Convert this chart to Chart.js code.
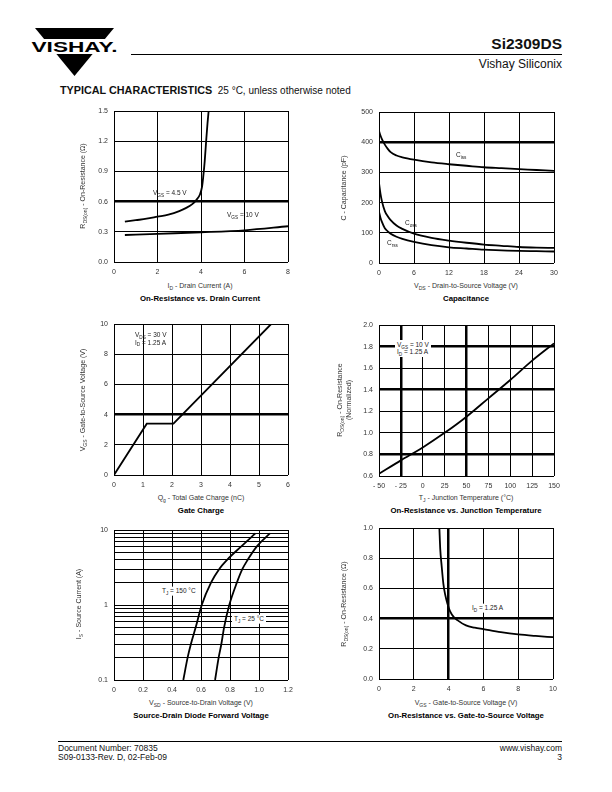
<!DOCTYPE html>
<html>
<head>
<meta charset="utf-8">
<script src="https://cdn.jsdelivr.net/npm/chart.js@4.4.1/dist/chart.umd.min.js"></script>
<style>
  body { margin: 0; width: 612px; height: 792px; position: relative; background: #fff; overflow: hidden;
         font-family: "Liberation Sans", Arial, sans-serif; color: #111; }
  canvas { position: absolute; }
  .t { position: absolute; white-space: nowrap; line-height: 1; }
  .cx { transform: translate(-50%, -50%); }
  .cy { transform: translateY(-50%); }
  .yt { transform: translate(-50%, -50%) rotate(-90deg); font-size: 7px; color: #333; text-align: center; line-height: 1.25; }
  .xt { font-size: 7px; color: #333; }
  .ct { font-size: 7.8px; font-weight: bold; color: #000; }
  .note { font-size: 6.5px; color: #222; z-index: 2; }
  .bg { background: #fff; padding: 1px 2px; }
  sub { font-size: 0.72em; vertical-align: baseline; position: relative; top: 0.35em; }
  .rule { position: absolute; height: 1px; background: #000; }
</style>
</head>
<body>

<!-- header -->
<svg class="t" style="left:31px;top:28px" width="88" height="49" viewBox="0 0 88 49">
  <polygon points="4,0 83,0 73.9,11 13.1,11" fill="#000"/>
  <text x="43.5" y="24" text-anchor="middle" font-family="Liberation Sans, Arial" font-weight="bold" font-size="14.5" textLength="86" lengthAdjust="spacingAndGlyphs">VISHAY.</text>
  <polygon points="25.4,26 61.6,26 43.5,48" fill="#000"/>
</svg>
<div class="rule" style="left:131px;top:54px;width:431px"></div>
<div class="t cy" style="right:50px;top:44px;font-size:15.5px;font-weight:bold">Si2309DS</div>
<div class="t cy" style="right:50px;top:64px;font-size:12px">Vishay Siliconix</div>
<div class="t cy" style="left:60px;top:89px"><span style="font-size:10.8px;font-weight:bold">TYPICAL CHARACTERISTICS</span><span style="font-size:10px">&nbsp;&nbsp;25 °C, unless otherwise noted</span></div>

<canvas id="c1"></canvas>
<canvas id="c2"></canvas>
<canvas id="c3"></canvas>
<canvas id="c4"></canvas>
<canvas id="c5"></canvas>
<canvas id="c6"></canvas>

<!-- chart 1 text -->
<div class="t yt" style="left:83px;top:186px">R<sub>DS(on)</sub> - On-Resistance (Ω)</div>
<div class="t cx xt" style="left:200px;top:286px">I<sub>D</sub> - Drain Current (A)</div>
<div class="t cx ct" style="left:200px;top:299px">On-Resistance vs. Drain Current</div>
<div class="t cy note" style="left:153px;top:193px">V<sub>GS</sub> = 4.5 V</div>
<div class="t cy note" style="left:227px;top:215px">V<sub>GS</sub> = 10 V</div>

<!-- chart 2 text -->
<div class="t yt" style="left:344px;top:188px">C - Capacitance (pF)</div>
<div class="t cx xt" style="left:466px;top:286px">V<sub>DS</sub> - Drain-to-Source Voltage (V)</div>
<div class="t cx ct" style="left:466px;top:299px">Capacitance</div>
<div class="t cy note" style="left:456px;top:155px">C<sub>iss</sub></div>
<div class="t cy note" style="left:405px;top:223px">C<sub>oss</sub></div>
<div class="t cy note" style="left:387px;top:243px">C<sub>rss</sub></div>

<!-- chart 3 text -->
<div class="t yt" style="left:83px;top:400px">V<sub>GS</sub> - Gate-to-Source Voltage (V)</div>
<div class="t cx xt" style="left:201px;top:498px">Q<sub>g</sub> - Total Gate Charge (nC)</div>
<div class="t cx ct" style="left:201px;top:511px">Gate Charge</div>
<div class="t note" style="left:135px;top:331px;line-height:1.2">V<sub>DS</sub> = 30 V<br>I<sub>D</sub> = 1.25 A</div>

<!-- chart 4 text -->
<div class="t yt" style="left:345px;top:400px">R<sub>DS(on)</sub> - On-Resistance<br>(Normalized)</div>
<div class="t cx xt" style="left:466px;top:498px">T<sub>J</sub> - Junction Temperature (°C)</div>
<div class="t cx ct" style="left:466px;top:511px">On-Resistance vs. Junction Temperature</div>
<div class="t note bg" style="left:395px;top:340px;line-height:1.15">V<sub>GS</sub> = 10 V<br>I<sub>D</sub> = 1.25 A</div>

<!-- chart 5 text -->
<div class="t yt" style="left:79px;top:604px">I<sub>S</sub> - Source Current (A)</div>
<div class="t cx xt" style="left:201px;top:703px">V<sub>SD</sub> - Source-to-Drain Voltage (V)</div>
<div class="t cx ct" style="left:201px;top:716px">Source-Drain Diode Forward Voltage</div>
<div class="t cy note bg" style="left:160px;top:591px">T<sub>J</sub> = 150 °C</div>
<div class="t cy note bg" style="left:232px;top:619px">T<sub>J</sub> = 25 °C</div>

<!-- chart 6 text -->
<div class="t yt" style="left:344px;top:604px">R<sub>DS(on)</sub> - On-Resistance (Ω)</div>
<div class="t cx xt" style="left:466px;top:703px">V<sub>GS</sub> - Gate-to-Source Voltage (V)</div>
<div class="t cx ct" style="left:466px;top:716px">On-Resistance vs. Gate-to-Source Voltage</div>
<div class="t cy note bg" style="left:470px;top:608px">I<sub>D</sub> = 1.25 A</div>

<!-- footer -->
<div class="rule" style="left:58px;top:741px;width:504px"></div>
<div class="t" style="left:58px;top:744px;font-size:8.5px;line-height:1.1">Document Number: 70835<br>S09-0133-Rev. D, 02-Feb-09</div>
<div class="t" style="right:50px;top:744px;font-size:8.5px;line-height:1.1;text-align:right">www.vishay.com<br>3</div>

<script>
// On-Resistance vs. Drain Current
const c1XTicks = [0, 2, 4, 6, 8];
const c1XLabels = ["0", "2", "4", "6", "8"];
const c1YTicks = [0, 0.3, 0.6, 0.9, 1.2, 1.5];
const c1YLabels = ["0.0", "0.3", "0.6", "0.9", "1.2", "1.5"];
const vgs45Id = [0.5, 1, 1.5, 2, 2.5, 3, 3.3, 3.6, 3.8, 3.95, 4.05, 4.1, 4.17, 4.25, 4.3, 4.36];
const vgs45R = [0.40, 0.415, 0.43, 0.45, 0.47, 0.505, 0.535, 0.575, 0.62, 0.67, 0.75, 0.84, 1.0, 1.24, 1.38, 1.52];
const vgs10Id = [0.5, 2, 4, 6, 8];
const vgs10R = [0.268, 0.28, 0.295, 0.315, 0.355];

// Capacitance
const c2XTicks = [0, 6, 12, 18, 24, 30];
const c2XLabels = ["0", "6", "12", "18", "24", "30"];
const c2YTicks = [0, 100, 200, 300, 400, 500];
const c2YLabels = ["0", "100", "200", "300", "400", "500"];
const vds = [0, 0.25, 0.5, 1, 1.5, 2, 3, 4, 6, 9, 12, 15, 18, 21, 24, 27, 30];
const ciss = [438, 422, 410, 392, 378, 367, 356, 350, 342, 333, 327, 322, 317, 314, 311, 308, 305];
const coss = [265, 230, 205, 172, 155, 142, 124, 113, 97, 83, 74, 67, 61, 57, 53, 51, 50];
const crss = [170, 150, 136, 115, 105, 97, 87, 80, 70, 59, 52, 48, 44, 42, 40, 39, 38];

// Gate Charge
const c3XTicks = [0, 1, 2, 3, 4, 5, 6];
const c3XLabels = ["0", "1", "2", "3", "4", "5", "6"];
const c3YTicks = [0, 2, 4, 6, 8, 10];
const c3YLabels = ["0", "2", "4", "6", "8", "10"];
const qg = [0, 1.13, 2.05, 5.42];
const vgsQ = [0, 3.4, 3.4, 10];

// On-Resistance vs. Junction Temperature
const c4XTicks = [-50, -25, 0, 25, 50, 75, 100, 125, 150];
const c4XLabels = ["- 50", "- 25", "0", "25", "50", "75", "100", "125", "150"];
const c4YTicks = [0.6, 0.8, 1.0, 1.2, 1.4, 1.6, 1.8, 2.0];
const c4YLabels = ["0.6", "0.8", "1.0", "1.2", "1.4", "1.6", "1.8", "2.0"];
const tj = [-50, -25, 0, 25, 50, 75, 100, 125, 150];
const rNorm = [0.62, 0.745, 0.865, 1.0, 1.15, 1.32, 1.49, 1.67, 1.83];

// Source-Drain Diode Forward Voltage
const c5XTicks = [0, 0.2, 0.4, 0.6, 0.8, 1.0, 1.2];
const c5XLabels = ["0", "0.2", "0.4", "0.6", "0.8", "1.0", "1.2"];
const c5YTicks = [0.1, 0.2, 0.3, 0.4, 0.5, 0.6, 0.7, 0.8, 0.9, 1, 2, 3, 4, 5, 6, 7, 8, 9, 10];
const c5YLabels = ["0.1", "", "", "", "", "", "", "", "", "1", "", "", "", "", "", "", "", "", "10"];
const vsd150 = [0.478, 0.508, 0.53, 0.563, 0.605, 0.67, 0.725, 0.78, 0.876, 0.975];
const is150 = [0.1, 0.2, 0.3, 0.5, 1, 2, 3, 4, 6, 9];
const vsd25 = [0.697, 0.722, 0.74, 0.759, 0.795, 0.848, 0.885, 0.922, 0.984, 1.075];
const is25 = [0.1, 0.2, 0.3, 0.5, 1, 2, 3, 4, 6, 9];

// On-Resistance vs. Gate-to-Source Voltage
const c6XTicks = [0, 2, 4, 6, 8, 10];
const c6XLabels = ["0", "2", "4", "6", "8", "10"];
const c6YTicks = [0, 0.2, 0.4, 0.6, 0.8, 1.0];
const c6YLabels = ["0.0", "0.2", "0.4", "0.6", "0.8", "1.0"];
const vgsR = [3.47, 3.52, 3.6, 3.7, 3.8, 3.93, 4.08, 4.3, 4.5, 5.0, 5.5, 6, 7, 8, 9, 10];
const rdsV = [1.0, 0.86, 0.75, 0.63, 0.56, 0.5, 0.45, 0.41, 0.39, 0.355, 0.34, 0.33, 0.31, 0.295, 0.285, 0.277];

Chart.defaults.font.family = '"Liberation Sans", Arial, sans-serif';
Chart.defaults.font.size = 7;
Chart.defaults.color = "#333";

function pts(xs, ys) {
  return xs.map((v, i) => ({ x: v, y: ys[i] }));
}

function curve(xs, ys, smooth) {
  return {
    data: pts(xs, ys),
    borderColor: "#000",
    borderWidth: 1.8,
    pointRadius: 0,
    fill: false,
    cubicInterpolationMode: smooth ? "monotone" : "default",
    tension: 0,
  };
}

function axis(ticks, labels, thick, horiz, log) {
  return {
    type: log ? "logarithmic" : "linear",
    min: ticks[0],
    max: ticks[ticks.length - 1],
    afterBuildTicks: (s) => { s.ticks = ticks.map((v) => ({ value: v })); },
    afterFit: (s) => {
      if (horiz) { s.height = 18; s.paddingLeft = 0; s.paddingRight = 0; }
      else { s.width = 40; s.paddingTop = 0; s.paddingBottom = 0; }
    },
    border: { display: false },
    grid: {
      color: "#000",
      drawTicks: false,
      lineWidth: (c) => (c.tick && thick.includes(c.tick.value) ? 2.5 : 1),
    },
    ticks: { autoSkip: false, maxRotation: 0, padding: 6, callback: (v, i) => labels[i] },
  };
}

function plot(id, area, x, y, sets) {
  const cv = document.getElementById(id);
  cv.width = area.w + 48;
  cv.height = area.h + 24;
  cv.style.left = area.l - 40 + "px";
  cv.style.top = area.t - 6 + "px";
  new Chart(cv, {
    type: "line",
    data: { datasets: sets },
    options: {
      responsive: false,
      animation: false,
      events: [],
      layout: { padding: { left: 0, top: 6, right: 8, bottom: 0 } },
      plugins: { legend: { display: false }, tooltip: { enabled: false } },
      scales: { x: x, y: y },
    },
  });
}

plot("c1", { l: 114, t: 111, w: 174, h: 151 },
  axis(c1XTicks, c1XLabels, [], true),
  axis(c1YTicks, c1YLabels, [0.6], false),
  [curve(vgs45Id, vgs45R, true), curve(vgs10Id, vgs10R, true)]);

plot("c2", { l: 379, t: 112, w: 175, h: 151 },
  axis(c2XTicks, c2XLabels, [], true),
  axis(c2YTicks, c2YLabels, [400], false),
  [curve(vds, ciss, true), curve(vds, coss, true), curve(vds, crss, true)]);

plot("c3", { l: 114, t: 324, w: 174, h: 151 },
  axis(c3XTicks, c3XLabels, [], true),
  axis(c3YTicks, c3YLabels, [4], false),
  [curve(qg, vgsQ, false)]);

plot("c4", { l: 379, t: 325, w: 175, h: 151 },
  axis(c4XTicks, c4XLabels, [-25, 50], true),
  axis(c4YTicks, c4YLabels, [0.8, 1.4, 1.8], false),
  [curve(tj, rNorm, true)]);

plot("c5", { l: 114, t: 530, w: 174, h: 150 },
  axis(c5XTicks, c5XLabels, [], true),
  axis(c5YTicks, c5YLabels, [], false, true),
  [curve(vsd150, is150, true), curve(vsd25, is25, true)]);

plot("c6", { l: 379, t: 528, w: 174, h: 151 },
  axis(c6XTicks, c6XLabels, [4], true),
  axis(c6YTicks, c6YLabels, [0.4], false),
  [curve(vgsR, rdsV, true)]);
</script>
</body>
</html>
